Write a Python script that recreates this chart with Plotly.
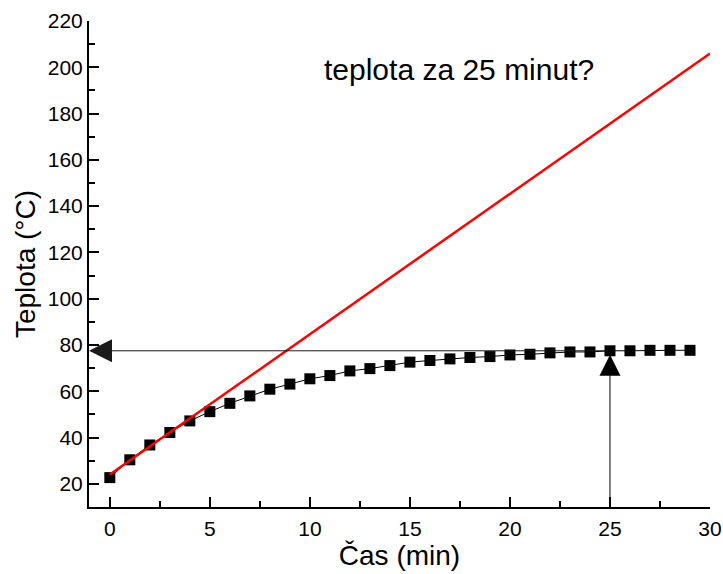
import plotly.graph_objects as go

# Data
cas = list(range(0, 30))
teplota = [22.7, 30.4, 36.8, 42.2, 47.2, 51.2, 54.8, 58.0, 60.9, 63.1,
           65.4, 66.8, 68.8, 69.8, 71.1, 72.6, 73.3, 74.0, 74.6, 75.0,
           75.7, 76.0, 76.6, 77.0, 77.0, 77.5, 77.5, 77.7, 77.7, 77.7]
tangent_x = [0, 30]
tangent_y = [24.0, 206.0]
target_time = 25
annotation_text = "teplota za 25 minut?"

x_range = [-1.04, 30]
y_range = [10, 220]

FONT = "Arial, Liberation Sans, sans-serif"

fig = go.Figure()

fig.add_trace(go.Scatter(
    x=cas, y=teplota, mode="lines+markers",
    line=dict(color="black", width=1),
    marker=dict(symbol="square", size=11, color="black"),
    showlegend=False,
))
fig.add_trace(go.Scatter(
    x=tangent_x, y=tangent_y, mode="lines",
    line=dict(color="#ff0000", width=2.5),
    showlegend=False,
))

t_idx = cas.index(target_time)
t_val = teplota[t_idx]

# vertical arrow from x axis up to curve
fig.add_annotation(
    x=target_time, y=t_val, ax=target_time, ay=y_range[0],
    xref="x", yref="y", axref="x", ayref="y",
    showarrow=True, arrowhead=2, arrowsize=4.2, arrowwidth=1,
    arrowcolor="black", standoff=4, text="",
)
# horizontal arrow from curve to y axis
fig.add_annotation(
    x=x_range[0], y=t_val, ax=target_time, ay=t_val,
    xref="x", yref="y", axref="x", ayref="y",
    showarrow=True, arrowhead=2, arrowsize=4.6, arrowwidth=1,
    arrowcolor="#1a1a1a", standoff=0, text="",
)

fig.add_annotation(
    x=17.45, y=199, xref="x", yref="y", text=annotation_text,
    showarrow=False, font=dict(family=FONT, size=30, color="black"),
)

fig.update_layout(
    width=723, height=574,
    margin=dict(l=89, r=13, t=21, b=67, autoexpand=False),
    paper_bgcolor="white", plot_bgcolor="white",
    font=dict(family=FONT, color="black"),
)

fig.update_xaxes(
    range=x_range, tick0=0, dtick=5, automargin=False,
    ticks="inside", ticklen=10, tickwidth=2, tickcolor="black",
    minor=dict(dtick=2.5, tick0=0, ticks="inside", ticklen=6, tickwidth=2, tickcolor="black"),
    showline=True, linewidth=2, linecolor="black",
    showgrid=False, zeroline=False,
    tickfont=dict(size=21, family=FONT), ticklabelstandoff=2,
    title=dict(text="Čas (min)", font=dict(size=28, family=FONT), standoff=0),
)
fig.update_yaxes(
    range=y_range, tick0=0, dtick=20, automargin=False,
    ticks="inside", ticklen=10, tickwidth=2, tickcolor="black",
    minor=dict(dtick=10, tick0=0, ticks="inside", ticklen=6, tickwidth=2, tickcolor="black"),
    showline=True, linewidth=2, linecolor="black",
    showgrid=False, zeroline=False,
    tickfont=dict(size=21, family=FONT),
    title=dict(text="Teplota (°C)", font=dict(size=28, family=FONT), standoff=4),
)

fig.write_html(
    "out.html",
    config={"displayModeBar": False},
    post_script="document.body.style.margin='0';",
)
